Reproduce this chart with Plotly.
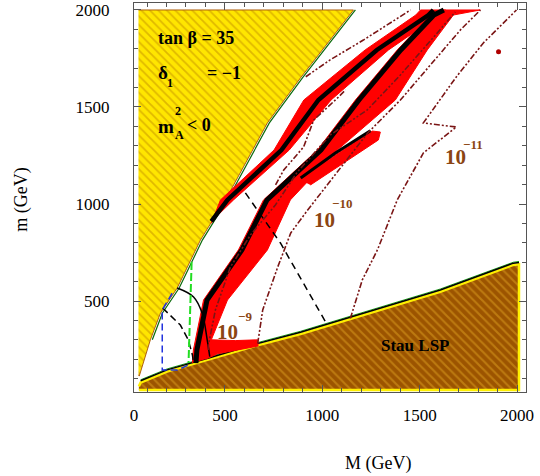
import plotly.graph_objects as go
import numpy as np

# --- region boundaries, (M, m) in GeV ---
mA2_neg_M = [56, 1160, 888, 718, 511, 374, 255, 169, 117, 70, 60, 56]
mA2_neg_m = [2000, 2000, 1650, 1418, 1036, 814, 567, 438, 300, 135, 113, 120]

stau_edge_M = [58, 67, 203, 426, 631, 888, 1093, 1262, 1606, 1981, 2010]
stau_edge_m = [60, 80, 136, 200, 262, 330, 393, 445, 548, 686, 690]
stau_floor = 41

# funnel band (black outer edge, red inner edge)
funnel_out_M = [333, 338, 390, 569, 698, 975, 1170, 1385, 1555, 1606]
funnel_out_m = [180, 247, 505, 763, 1021, 1278, 1536, 1794, 1974, 2000]
funnel_in_M = [1811, 1673, 1539, 1375, 1077, 836, 718, 513, 430, 462, 554, 668, 670, 462, 400]
funnel_in_m = [2000, 1974, 1794, 1536, 1278, 1021, 763, 505, 300, 299, 296, 300, 268, 228, 200]

# upper band next to the m_A^2<0 region
upper_left_M = [430, 477, 752, 905, 1220, 1480, 1504]
upper_left_m = [900, 1021, 1278, 1536, 1794, 1974, 2000]
upper_right_M = [1632, 1600, 1340, 1045, 830, 544, 451]
upper_right_m = [2000, 1974, 1794, 1536, 1278, 1021, 930]
upper_core_M = [430, 513, 790, 980, 1280, 1545, 1570]
upper_core_m = [910, 1021, 1278, 1536, 1794, 1974, 2000]

# short branch
branch_M = [889, 1067, 1257, 1298, 1288, 1118, 939]
branch_m = [1124, 1253, 1376, 1371, 1330, 1217, 1098]
branch_edge_M = [889, 1067, 1247]
branch_edge_m = [1134, 1263, 1378]

# other contours
solid_M = [255, 339, 383, 409, 422]
solid_m = [567, 521, 437, 299, 213]
dash_left_M = [180, 271, 312, 333, 338]
dash_left_m = [464, 376, 299, 222, 186]
dash_big_M = [605, 785, 1026]
dash_big_m = [1057, 799, 376]
green_M = [329, 313]
green_m = [701, 180]
blue_M = [229, 178, 178, 255, 313]
blue_m = [540, 454, 144, 144, 170]

# BR contours (dash-dot)
dd_top_M = [915, 1042, 1211, 1314, 1453]
dd_top_m = [1656, 1744, 1845, 1912, 2000]
dd_mid_M = [760, 802, 904, 956, 1083, 1119]
dd_mid_m = [1098, 1175, 1294, 1433, 1551, 1588]
dd9_M = [415, 415, 451, 528, 631, 759, 872, 1041, 1231, 1401, 1581, 1683]
dd9_m = [247, 273, 454, 675, 840, 995, 1165, 1356, 1485, 1665, 1871, 1990]
dd10_M = [668, 694, 771, 838, 925, 1058, 1233, 1401, 1555, 1709, 1812]
dd10_m = [280, 454, 675, 851, 969, 1139, 1366, 1536, 1717, 1897, 2000]
dd11_M = [1144, 1205, 1283, 1385, 1519, 1688, 1519, 1688, 1827, 1997]
dd11_m = [410, 608, 763, 1021, 1263, 1397, 1418, 1655, 1830, 2000]
dot_M = [1905]
dot_m = [1785]

fig = go.Figure()


def add(x, y, **kw):
    fig.add_trace(go.Scatter(x=x, y=y, hoverinfo="skip", showlegend=False, **kw))


# m_A^2 < 0 region
add(mA2_neg_M, mA2_neg_m, mode="lines", fill="toself", fillcolor="#FFE600",
    fillpattern=dict(shape="\\", bgcolor="#FFE600", fgcolor="#C08A00", size=6, solidity=0.3),
    line=dict(color="#B06010", width=1))
add(np.array(mA2_neg_M[1:9]) + 10, mA2_neg_m[1:9], mode="lines", line=dict(color="#0a6a0a", width=1.2))

# stau LSP region
stau_M = stau_edge_M + [2010, 58]
stau_m = stau_edge_m + [stau_floor, stau_floor]
add(stau_M, stau_m, mode="lines", fill="toself", fillcolor="#9C5400",
    fillpattern=dict(shape="\\", bgcolor="#9C5400", fgcolor="#DDA020", size=6, solidity=0.35),
    line=dict(color="#FFF000", width=2.5))
add(stau_edge_M[1:], np.array(stau_edge_m[1:]) + 14, mode="lines", line=dict(color="#22AA22", width=1))
add(stau_edge_M[1:], np.array(stau_edge_m[1:]) + 9, mode="lines", line=dict(color="black", width=1.5))

# red bands
add(funnel_out_M + funnel_in_M, funnel_out_m + funnel_in_m, mode="lines", fill="toself",
    fillcolor="#FF0000", line=dict(color="#FF0000", width=1))
add(upper_left_M + upper_right_M, upper_left_m + upper_right_m, mode="lines", fill="toself",
    fillcolor="#FF0000", line=dict(color="#FF0000", width=1))
add(branch_M, branch_m, mode="lines", fill="toself", fillcolor="#FF0000",
    line=dict(color="#FF0000", width=1))

# black cores
add(np.array(funnel_out_M) + 18, funnel_out_m, mode="lines", line=dict(color="black", width=5))
add(upper_core_M, upper_core_m, mode="lines", line=dict(color="black", width=4.5))
add(branch_edge_M, branch_edge_m, mode="lines", line=dict(color="black", width=3))

# other lines
add(solid_M, solid_m, mode="lines", line=dict(color="black", width=1.5, shape="spline"))
add(dash_left_M, dash_left_m, mode="lines", line=dict(color="black", width=1.5, dash="7px,4px"))
add(dash_big_M, dash_big_m, mode="lines", line=dict(color="black", width=1.5, dash="7px,5px"))
add(green_M, green_m, mode="lines", line=dict(color="#22DD22", width=2, dash="8px,3px"))
add(blue_M, blue_m, mode="lines", line=dict(color="#2233DD", width=1.5, dash="7px,4px"))

dd = dict(color="#7A1515", width=1.6, dash="6px,2px,2px,2px,2px,2px")
for xs, ys in [(dd_top_M, dd_top_m), (dd_mid_M, dd_mid_m), (dd9_M, dd9_m),
               (dd10_M, dd10_m), (dd11_M, dd11_m)]:
    add(xs, ys, mode="lines", line=dd)
add(dot_M, dot_m, mode="markers", marker=dict(color="#B00000", size=5))

serif = "Liberation Serif"
ann = []


def txt(x, y, s, size, color="black", anchor="left"):
    ann.append(dict(x=x, y=y, xref="x", yref="y", text=s, showarrow=False, xanchor=anchor,
                    yanchor="middle", font=dict(family=serif, size=size, color=color, weight="bold")))


txt(144, 1856, "tan β = 35", 18)
txt(144, 1680, "δ", 19)
txt(192, 1622, "1", 12)
txt(400, 1675, "= −1", 18)
txt(144, 1402, "m", 19)
txt(234, 1481, "2", 12)
txt(232, 1354, "A", 12)
txt(297, 1405, "< 0", 18)
txt(1478, 273, "Stau LSP", 17, anchor="center")
brown = "#8B4513"
txt(515, 338, "10", 21, brown, "center")
txt(605, 420, "−9", 13, brown, "center")
txt(1011, 920, "10", 21, brown, "center")
txt(1100, 1005, "−10", 13, brown, "center")
txt(1683, 1240, "10", 21, brown, "center")
txt(1772, 1309, "−11", 13, brown, "center")

ann.append(dict(x=0.622, y=-0.183, xref="paper", yref="paper", text="M (GeV)", showarrow=False,
                xanchor="center", yanchor="middle", font=dict(family=serif, size=18, color="black")))
ann.append(dict(x=-0.2857, y=0.494, xref="paper", yref="paper", text="m (GeV)", showarrow=False,
                xanchor="center", yanchor="middle", textangle=-90,
                font=dict(family=serif, size=18, color="black")))

axis_common = dict(showgrid=False, zeroline=False, showline=True, linecolor="#555", linewidth=1,
                   mirror="allticks", ticks="inside", ticklen=7, tickcolor="#555", automargin=False,
                   tickfont=dict(family=serif, size=17, color="black"),
                   minor=dict(dtick=100, ticks="inside", ticklen=4, tickcolor="#555", showgrid=False))

fig.update_layout(
    width=540, height=476, margin=dict(l=134, r=14, t=3, b=84),
    paper_bgcolor="white", plot_bgcolor="white", annotations=ann,
    xaxis=dict(range=[33, 2046], tickvals=[33, 500, 1000, 1500, 2000],
               ticktext=["0", "500", "1000", "1500", "2000"], ticklabelstandoff=8, **axis_common),
    yaxis=dict(range=[31, 2036], tickvals=[500, 1000, 1500, 2000], ticklabelstandoff=20,
               **axis_common),
)

fig.write_html("out.html", config={"displayModeBar": False},
               post_script="document.body.style.margin = '0';")
